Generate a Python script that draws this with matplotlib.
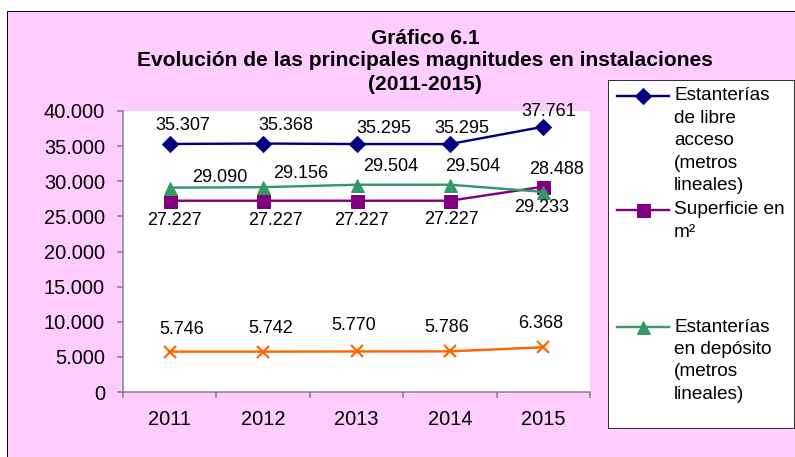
import matplotlib.pyplot as plt
from matplotlib.patches import Rectangle
from matplotlib.lines import Line2D

# Data
years = ['2011', '2012', '2013', '2014', '2015']
libre_acceso = [35307, 35368, 35295, 35295, 37761]
superficie = [27227, 27227, 27227, 27227, 29233]
deposito = [29090, 29156, 29504, 29504, 28488]
otros = [5746, 5742, 5770, 5786, 6368]

yticks = [0, 5000, 10000, 15000, 20000, 25000, 30000, 35000, 40000]


def fmt(v):
    return f"{v:,}".replace(',', '.')


plt.rcParams['font.family'] = ['Liberation Sans', 'DejaVu Sans']

W, H = 795, 457
fig = plt.figure(figsize=(W / 72, H / 72), dpi=72)
fig.patch.set_facecolor('white')

# pink chart area
fig.add_artist(Rectangle((7 / W, 0), 1, 1 - 11 / H, transform=fig.transFigure,
                         facecolor='#FFCCFF', edgecolor='black', linewidth=1, zorder=-5))

ax = fig.add_axes([123 / W, (H - 392) / H, 467 / W, 281 / H])
ax.set_facecolor('white')
x = list(range(len(years)))

series = [
    (libre_acceso, '#000080', 'D', 11),
    (superficie, '#800080', 's', 13),
    (deposito, '#339966', '^', 13),
    (otros, '#FF6600', 'x', 12),
]
for vals, col, mk, ms in series:
    ax.plot(x, vals, color=col, linewidth=2.4, marker=mk, markersize=ms,
            markeredgewidth=2.2 if mk == 'x' else 1, zorder=3, clip_on=False)

# data label offsets (px) - positioned by hand in the original
offsets = {
    0: [(13, 18), (23, 18), (27, 16), (12, 16), (5, 15)],
    1: [(5, -20), (12, -20), (5, -20), (2, -19), (-2, -21)],
    2: [(50, 10), (38, 14), (34, 18), (23, 18), (13, 22)],
    3: [(12, 22), (8, 23), (-3, 26), (-3, 24), (-3, 24)],
}
for i, (vals, col, mk, ms) in enumerate(series):
    for j, v in enumerate(vals):
        dx, dy = offsets[i][j]
        ax.annotate(fmt(v), (j, v), xytext=(dx, dy), textcoords='offset points',
                    ha='center', va='center', fontsize=18, color='black', zorder=4)

ax.set_xlim(-0.5, 4.5)
ax.set_ylim(0, 40000)
ax.set_yticks(yticks)
ax.set_yticklabels([fmt(v) for v in yticks])
ax.set_xticks(x)
ax.set_xticklabels(years)
ax.set_xticks([i - 0.5 for i in range(len(years) + 1)], minor=True)
ax.tick_params(axis='x', which='major', length=0, pad=18, labelsize=20)
ax.tick_params(axis='x', which='minor', length=6, width=1.5, color='#808080')
ax.tick_params(axis='y', length=6, width=1.5, color='#808080', pad=12, labelsize=20)
for s in ['top', 'right']:
    ax.spines[s].set_visible(False)
for s in ['left', 'bottom']:
    ax.spines[s].set_color('#808080')
    ax.spines[s].set_linewidth(1.5)

# title
title_lines = ['Gráfico 6.1',
               'Evolución de las principales magnitudes en instalaciones',
               '(2011-2015)']
for ty, t in zip([38, 61, 85], title_lines):
    fig.text(425 / W, 1 - ty / H, t, ha='center', va='center', fontsize=21,
             fontweight='bold')

# legend box
lax = fig.add_axes([608 / W, (H - 428) / H, 186 / W, 348 / H])
lax.set_xlim(0, 186)
lax.set_ylim(348, 0)
lax.set_xticks([])
lax.set_yticks([])
for s in lax.spines.values():
    s.set_color('#333333')
    s.set_linewidth(1)

legend_items = [
    (16, ['Estanterías', 'de libre', 'acceso', '(metros', 'lineales)'], series[0]),
    (130, ['Superficie en', 'm²'], series[1]),
    (247, ['Estanterías', 'en depósito', '(metros', 'lineales)'], series[2]),
]
for y0, lines, (vals, col, mk, ms) in legend_items:
    lax.add_line(Line2D([9, 61], [y0, y0], color=col, linewidth=2.4))
    lax.plot([35], [y0], marker=mk, color=col, markersize=ms, linestyle='none')
    for k, line in enumerate(lines):
        lax.text(66, y0 + k * 22.5, line, ha='left', va='center', fontsize=19)

fig.savefig('out.png', dpi=72)
